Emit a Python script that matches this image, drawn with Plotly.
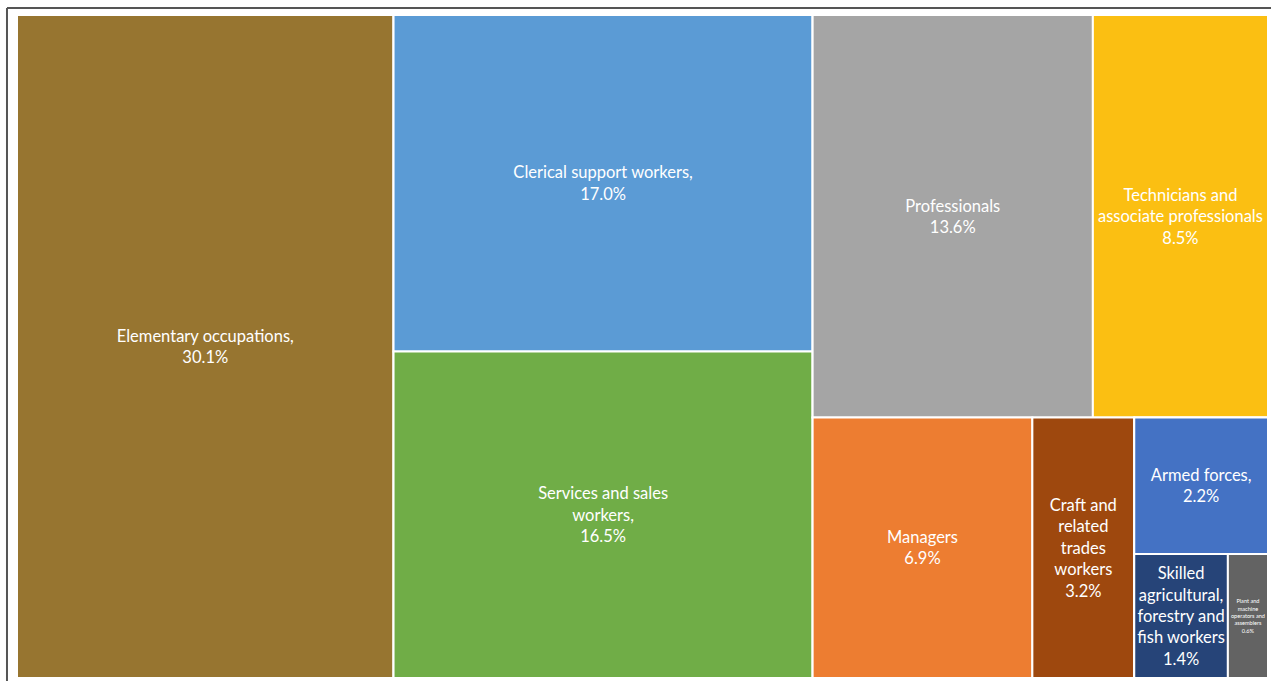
import plotly.graph_objects as go

# Occupation groups and their shares (%)
categories = [
    "Elementary occupations",
    "Clerical support workers",
    "Services and sales workers",
    "Professionals",
    "Technicians and associate professionals",
    "Managers",
    "Craft and related trades workers",
    "Armed forces",
    "Skilled agricultural, forestry and fish workers",
    "Plant and machine operators and assemblers",
]
shares = [30.1, 17.0, 16.5, 13.6, 8.5, 6.9, 3.2, 2.2, 1.4, 0.6]

# Wrapped display names for the tiles
display_names = [
    "Elementary occupations,",
    "Clerical support workers,",
    "Services and sales<br>workers,",
    "Professionals",
    "Technicians and<br>associate professionals",
    "Managers",
    "Craft and<br>related<br>trades<br>workers",
    "Armed forces,",
    "Skilled<br>agricultural,<br>forestry and<br>fish workers",
    "Plant and<br>machine<br>operators and<br>assemblers",
]

colors = [
    "#977530", "#5B9BD5", "#70AD47", "#A5A5A5", "#FBBF12",
    "#ED7D31", "#9E480E", "#4472C4", "#264478", "#636363",
]

# Layout grouping: nested blocks; slice-dice alternates horizontal / vertical
# splits at each level, children kept in the listed order.
blocks = {
    "all": ["Elementary occupations", "g1", "g2"],
    "g1": ["Clerical support workers", "Services and sales workers"],
    "g2": ["g3", "g4"],
    "g3": ["Professionals", "Technicians and associate professionals"],
    "g4": ["Managers", "Craft and related trades workers", "g5"],
    "g5": ["Armed forces", "g6"],
    "g6": ["Skilled agricultural, forestry and fish workers",
           "Plant and machine operators and assemblers"],
}

share_of = dict(zip(categories, shares))
color_of = dict(zip(categories, colors))
text_of = {c: f"{n}<br>{v:.1f}%" for c, n, v in zip(categories, display_names, shares)}

ids, parents, labels, values, texts, tile_colors = [], [], [], [], [], []


def add_node(node, parent):
    ids.append(node)
    parents.append(parent)
    if node in blocks:
        labels.append("")
        values.append(0)
        texts.append("")
        tile_colors.append("white")
        for child in blocks[node]:
            add_node(child, node)
    else:
        labels.append(node)
        values.append(share_of[node])
        texts.append(text_of[node])
        tile_colors.append(color_of[node])


add_node("all", "")

fig = go.Figure(
    go.Treemap(
        ids=ids,
        labels=labels,
        parents=parents,
        values=values,
        text=texts,
        textinfo="text",
        texttemplate="%{text}",
        textposition="middle center",
        sort=False,
        tiling=dict(packing="slice-dice", pad=0),
        marker=dict(
            colors=tile_colors,
            line=dict(color="white", width=2),
            pad=dict(t=0, l=0, r=0, b=0),
        ),
        textfont=dict(family="Lato, Open Sans, sans-serif", size=16.5, color="white"),
        hovertemplate="%{label}<br>%{value:.1f}%<extra></extra>",
        pathbar=dict(visible=False),
        root=dict(color="white"),
    )
)

fig.update_layout(
    width=1271,
    height=681,
    margin=dict(l=17, r=3, t=15, b=3),
    paper_bgcolor="white",
    plot_bgcolor="white",
    shapes=[
        dict(type="line", xref="paper", yref="paper", x0=-0.008, x1=1.01, y0=1.0106, y1=1.0106,
             line=dict(color="#555555", width=2)),
        dict(type="line", xref="paper", yref="paper", x0=-0.008, x1=-0.008, y0=-0.01, y1=1.0106,
             line=dict(color="#555555", width=2)),
    ],
)

fig.write_html("out.html")
